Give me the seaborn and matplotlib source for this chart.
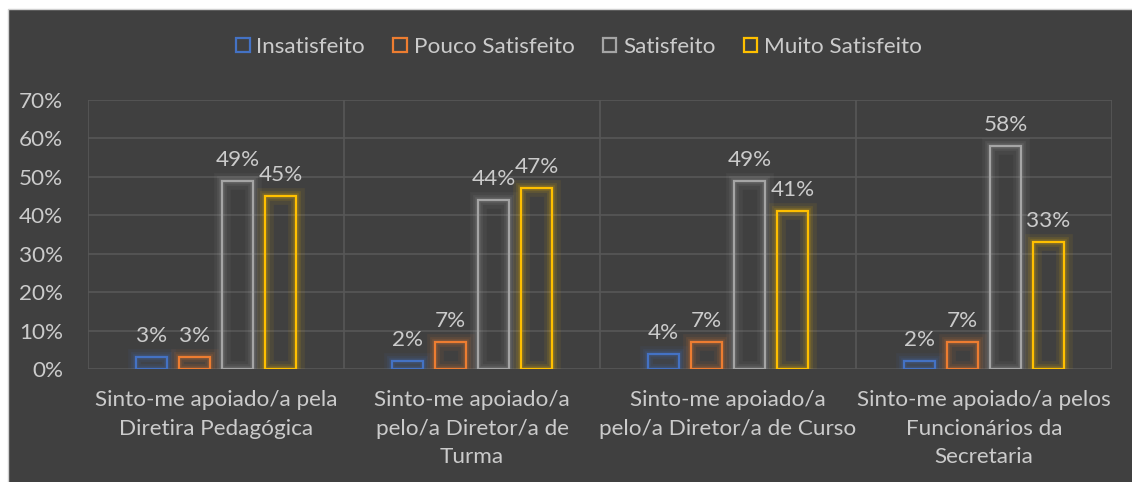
import matplotlib
matplotlib.use("Agg")
import matplotlib.pyplot as plt
import matplotlib.patheffects as pe
from matplotlib.patches import Patch, Rectangle
from matplotlib.ticker import FuncFormatter
import seaborn as sns
import pandas as pd

categories = [
    "Sinto-me apoiado/a pela\nDiretira Pedagógica",
    "Sinto-me apoiado/a\npelo/a Diretor/a de\nTurma",
    "Sinto-me apoiado/a\npelo/a Diretor/a de Curso",
    "Sinto-me apoiado/a pelos\nFuncionários da\nSecretaria",
]
series = ["Insatisfeito", "Pouco Satisfeito", "Satisfeito", "Muito Satisfeito"]
insatisfeito = [3, 2, 4, 2]
pouco = [3, 7, 7, 7]
satisfeito = [49, 44, 49, 58]
muito = [45, 47, 41, 33]
yticks = [0, 10, 20, 30, 40, 50, 60, 70]

colors = ["#4472C4", "#ED7D31", "#A5A5A5", "#FFC000"]
BG = "#404040"
TXT = "#CBCBCB"
GRID = "#575757"

rows = []
for s, vals in zip(series, [insatisfeito, pouco, satisfeito, muito]):
    for c, v in zip(categories, vals):
        rows.append({"cat": c, "serie": s, "val": v})
df = pd.DataFrame(rows)

sns.set_theme(style="dark")
plt.rcParams["font.family"] = ["Lato", "DejaVu Sans"]
FS = 16.2

fig = plt.figure(figsize=(11.32, 4.82), dpi=100)
fig.patch.set_facecolor("white")
bgrect = Rectangle((8 / 1132, -0.01), 1, 1.01 - 9 / 482, transform=fig.transFigure,
                   facecolor=BG, edgecolor="#D0D0D0", linewidth=1.0, zorder=-10)
fig.add_artist(bgrect)
ax = fig.add_axes([88 / 1132, 1 - 369 / 482, (1112 - 88) / 1132, (369 - 100) / 482])
ax.set_zorder(5)
ax.set_facecolor(BG)

sns.barplot(data=df, x="cat", y="val", hue="serie", order=categories, hue_order=series,
            palette=colors, width=0.672, gap=0.28, ax=ax, legend=False, errorbar=None)

ax.set_ylim(0, 70)
ax.set_xlim(-0.5, 3.5)
ax.set_yticks(yticks)
ax.yaxis.set_major_formatter(FuncFormatter(lambda v, p: f"{int(v)}%"))
ax.grid(False)
for y in yticks:
    ax.axhline(y, color=GRID, lw=1.2, zorder=0)
for x in [-0.5, 0.5, 1.5, 2.5, 3.5]:
    ax.axvline(x, color=GRID, lw=1.2, zorder=0)
for sp in ax.spines.values():
    sp.set_visible(False)

ax.set_xlabel("")
ax.set_ylabel("")
ax.tick_params(axis="y", labelsize=FS, labelcolor=TXT, pad=18, length=0)
ax.tick_params(axis="x", labelsize=FS, labelcolor=TXT, pad=15, length=0)
for lbl in ax.get_xticklabels():
    lbl.set_linespacing(1.55)

for i, cont in enumerate(ax.containers):
    col = colors[i]
    for bar in cont:
        bar.set_facecolor("none")
        bar.set_edgecolor(col)
        bar.set_linewidth(1.6)
        bar.set_zorder(3)
        bar.set_path_effects([
            pe.Stroke(linewidth=12, foreground=col, alpha=0.07),
            pe.Stroke(linewidth=7, foreground=col, alpha=0.11),
            pe.Stroke(linewidth=4, foreground=col, alpha=0.15),
            pe.Normal(),
        ])
    ax.bar_label(cont, labels=[f"{int(v)}%" for v in cont.datavalues], padding=8,
                 color=TXT, fontsize=FS)

handles = [Patch(facecolor="none", edgecolor=c, linewidth=1.6, label=s) for c, s in zip(colors, series)]
fig.legend(handles=handles, loc="center", bbox_to_anchor=(579 / 1132, 1 - 47 / 482), ncol=4,
           frameon=False, fontsize=FS, labelcolor=TXT, handlelength=0.6, handleheight=0.6,
           handletextpad=0.3, columnspacing=1.25)

fig.savefig("out.png", dpi=100, facecolor=fig.get_facecolor())
